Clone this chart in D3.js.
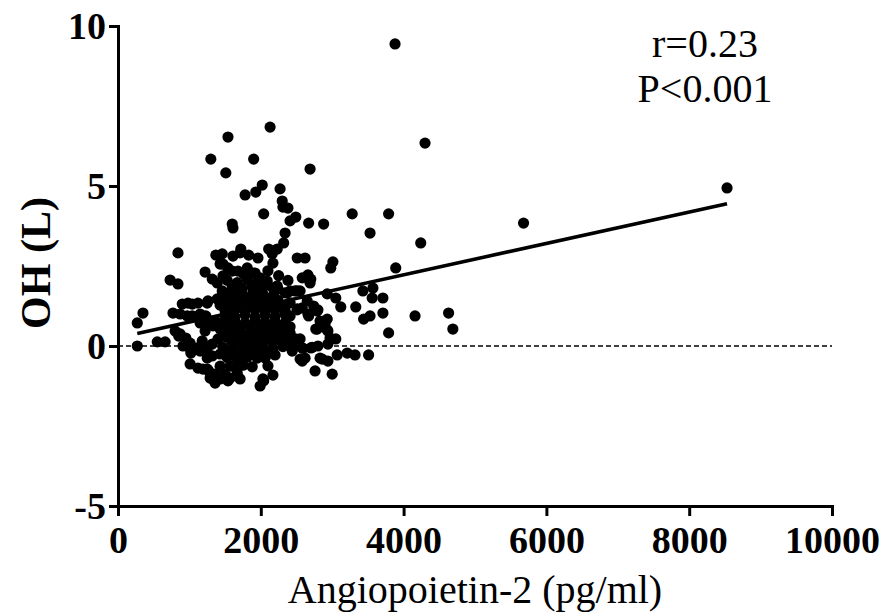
<!DOCTYPE html>
<html><head><meta charset="utf-8">
<script src="https://cdn.jsdelivr.net/npm/d3@7"></script>
<style>body{margin:0;background:#fff}svg{display:block}</style>
</head><body>
<svg id="chart" width="881" height="614"></svg>
<script>
// Angiopoietin-2 (pg/ml), OH (L)
const points = [
[3880,9.44],[4300,6.34],[8530,4.94],[5680,3.84],[2130,6.84],[1540,6.53],[1300,5.84],[1900,5.84],[1510,5.41],[2020,5.03],
[1930,4.81],[1780,4.72],[2270,4.91],[2300,4.53],[2310,4.34],[2380,4.31],[2040,4.13],[2690,5.53],[2490,4.03],[2410,3.91],
[2670,3.84],[1600,3.81],[1610,3.69],[2340,3.53],[2320,3.22],[1720,3.03],[2110,3.03],[2230,3.03],[840,2.91],[1370,2.84],
[1830,2.84],[3280,4.13],[3790,4.13],[2880,3.81],[3530,3.53],[4240,3.22],[3010,2.63],[2980,2.44],[3890,2.44],[2930,1.63],
[3050,1.5],[3430,1.72],[3570,1.81],[3560,1.5],[3710,1.5],[3120,1.22],[3330,1.22],[3710,1.03],[3440,0.84],[3530,0.94],
[4160,0.94],[4630,1.03],[4690,0.53],[3790,0.41],[2900,0.69],[2930,0.5],[2970,0.25],[3050,0.22],[2940,0.06],[2860,-0.41],
[3070,-0.28],[3210,-0.22],[3320,-0.28],[3510,-0.28],[3000,-0.88],
[2510,2.75],[2620,2.75],[2660,2.22],[2580,2.13],[2700,2.09],[2410,1.72],[2510,1.72],[2510,1.13],[2740,1.25],[2800,1.13],
[2670,0.94],[2410,0.94],[2770,0.53],[2410,0.41],[2480,0.22],[2450,-0.06],[2580,-0.06],[2700,-0.06],[2620,-0.38],[2580,-0.47],
[2760,-0.78],[2170,2.59],[2160,2.88],
[1470,2.56],[1600,2.34],[1810,2.44],[1920,2.28],[1220,2.31],[1320,2.09],[1390,1.97],[730,2.06],[840,1.94],[980,1.34],
[900,1.31],[1250,1.34],[1120,1.34],[350,1.03],[270,0.72],[270,0],[550,0.13],[660,0.13],[770,1.03],[870,1.0],
[970,0.94],[800,0.47],[870,0.38],[950,0.25],[1010,0.09],[1010,-0.09],[910,0],[1110,-0.06],[1010,-0.56],[1120,-0.69],
[1250,-0.72],[1320,-1.03],[1390,-0.94],[1500,-0.88],[1670,-0.94],[1650,-0.69],[1990,-1.25],[2040,-1.09],[2170,-0.91],[1950,-0.38],
[2060,-0.38],[2200,-0.28],[2440,-0.16],[2550,-0.41],[2580,1.19],[2650,1.41],[2340,1.66],[2230,1.88],[2090,2.03],[2170,1.56],
[1470,2.19],[1040,1.31],[1260,1.41],[1390,1.47],[1460,1.72],[1510,1.63],[1040,0.94],[1150,1.0],[1230,0.94],[850,0.31],
[1040,-0.06],[1020,-0.22],[1150,0.72],[1250,0.78],[1220,0.47],[1330,0.63],[1430,0.72],[1530,0.88],[1180,0.16],[1250,-0.06],
[1320,0.06],[1400,0.22],[1470,0.31],[1540,0.41],[1190,-0.72],[1270,-0.78],[1360,-0.88],[1290,-1.0],[1360,-1.16],[1430,-1.03],
[1540,-1.09],[1150,-0.16],[1250,-0.38],[1320,-0.31],[1430,-0.25],[1530,-0.16],
[1460,2.88],[1610,2.81],[1710,2.91],[1960,2.75],[2690,1.97],[1430,2.56],[1540,2.44],[1680,2.34],[1890,2.28],[1990,2.13],
[2090,1.92],[2170,1.81],[2240,1.78],[2370,1.66],[2480,1.72],[2550,1.72],
[1530,2.05],[1670,1.98],[1810,2.08],[1950,2.0],
[1470,1.6],[1610,1.66],[1750,1.58],[1890,1.68],[2030,1.62],[2180,1.57],
[1430,1.28],[1570,1.34],[1710,1.3],[1850,1.36],[1990,1.27],[2130,1.33],[2270,1.29],[2410,1.35],
[1500,0.97],[1640,0.91],[1780,0.98],[1920,0.9],[2060,0.96],[2200,0.92],[2340,0.99],
[1430,0.53],[1570,0.59],[1710,0.55],[1850,0.6],[1990,0.52],[2130,0.57],[2270,0.54],[2410,0.6],
[1530,0.27],[1670,0.22],[1810,0.28],[1950,0.2],[2090,0.26],[2230,0.23],[2370,0.29],[2510,0.21],
[1470,-0.04],[1610,-0.09],[1750,-0.03],[1890,-0.08],[2030,-0.05],[2170,-0.1],[2310,-0.02],[2590,-0.07],[2720,-0.04],
[1530,-0.36],[1670,-0.41],[1810,-0.35],
[2510,1.16],[2660,1.0],[2790,1.09],[2830,0.78],[2930,0.84],[2790,0.53],[2940,0.47],[2550,0.22],[2800,0],[2830,-0.38],[2940,-0.47],
[2030,-1.03],[1670,-0.84],[1570,-1.0],[1710,-1.03],[1430,-0.63],[1570,-0.63],
[2250,2.2],[2380,2.05],[2100,2.35],[1760,2.25],
[1600,1.85],[1740,1.8],[1880,1.86],[2020,1.79],
[1540,1.45],[1680,1.5],[1820,1.44],[1960,1.49],[2100,1.46],[2240,1.43],
[1500,1.1],[1640,1.15],[1780,1.1],[1920,1.14],[2060,1.09],[2200,1.13],[2340,1.11],
[1360,0.77],[1500,0.73],[1640,0.76],[1780,0.72],[1920,0.78],[2060,0.74],[2200,0.76],[2340,0.73],
[1600,0.42],[1740,0.38],[1880,0.41],[2020,0.37],[2160,0.43],[2300,0.39],
[1600,0.12],[1740,0.08],[1880,0.11],[2020,0.07],[2160,0.13],[2300,0.09],[2440,0.1],
[1600,-0.2],[1740,-0.24],[1880,-0.19],[2000,-0.23],[2120,-0.2],
[1750,-0.6],[1880,-0.65],[2100,-0.62]
];
const xTicks = [0, 2000, 4000, 6000, 8000, 10000];
const yTicks = [-5, 0, 5, 10];
const fit = { intercept: 0.26, slope: 0.000491 };
const statsText = ["r=0.23", "P<0.001"];
const xTitle = "Angiopoietin-2 (pg/ml)";
const yTitle = "OH (L)";

const svg = d3.select("#chart");
const x = d3.scaleLinear().domain([0, 10000]).range([118, 832]);
const y = d3.scaleLinear().domain([-5, 10]).range([506, 26]);
const serif = "'Liberation Serif','Times New Roman',serif";
const fmt = d => String(d);

// zero reference line
svg.append("line")
  .attr("x1", x(0)).attr("x2", x(10000))
  .attr("y1", y(0)).attr("y2", y(0))
  .attr("stroke", "#000").attr("stroke-width", 1.6)
  .attr("stroke-dasharray", "5,3");

// points
svg.append("g").selectAll("circle").data(points).join("circle")
  .attr("cx", d => x(d[0])).attr("cy", d => y(d[1]))
  .attr("r", 5.6).attr("fill", "#000");

// regression line
const xr = d3.extent(points, d => d[0]);
svg.append("line")
  .attr("x1", x(xr[0])).attr("y1", y(fit.intercept + fit.slope * xr[0]))
  .attr("x2", x(xr[1])).attr("y2", y(fit.intercept + fit.slope * xr[1]))
  .attr("stroke", "#000").attr("stroke-width", 3.6);

// axes
const gx = svg.append("g").attr("transform", `translate(0,${y(-5)})`)
  .call(d3.axisBottom(x).tickValues(xTicks).tickFormat(fmt)
    .tickSize(10).tickSizeOuter(0).tickPadding(10));
const gy = svg.append("g").attr("transform", `translate(${x(0)},0)`)
  .call(d3.axisLeft(y).tickValues(yTicks).tickFormat(fmt)
    .tickSize(9).tickSizeOuter(0).tickPadding(3));
[gx, gy].forEach(g => {
  g.select(".domain").attr("stroke-width", 3).attr("stroke-linecap", "square");
  g.selectAll(".tick line").attr("stroke-width", 3);
  g.selectAll(".tick text").attr("fill", "#000")
    .style("font-family", serif).style("font-weight", "bold").style("font-size", "38px");
});

// titles
svg.append("text").attr("x", 475).attr("y", 603).attr("text-anchor", "middle")
  .style("font-family", serif).style("font-size", "40px").text(xTitle);
svg.append("text").attr("transform", "translate(50,263) rotate(-90)")
  .attr("text-anchor", "middle")
  .style("font-family", serif).style("font-weight", "bold").style("font-size", "42px").text(yTitle);

// stats annotation
svg.append("g").selectAll("text").data(statsText).join("text")
  .attr("x", 705).attr("y", (d, i) => 57 + i * 45).attr("text-anchor", "middle")
  .style("font-family", serif).style("font-size", "40px").text(d => d);
</script>
</body></html>
